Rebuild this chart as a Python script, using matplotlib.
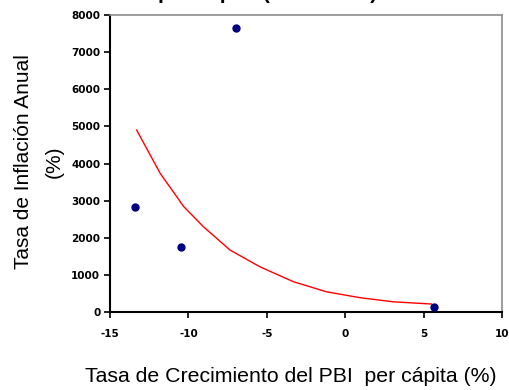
import numpy as np
import matplotlib
matplotlib.use("Agg")
import matplotlib.pyplot as plt

# growth of GDP per capita (%) vs annual inflation (%)
crecimiento = [-13.4, -10.5, -6.95, 5.65]
inflacion = [2820, 1750, 7655, 140]

# trend line as drawn on the chart
tend_x = [-13.3, -11.8, -10.3, -9.05, -7.35, -5.45, -3.3, -1.2, 0.95, 3.05, 5.5]
tend_y = [4900, 3735, 2840, 2300, 1670, 1220, 815, 545, 385, 275, 215]

xticks = [-15, -10, -5, 0, 5, 10]
yticks = [0, 1000, 2000, 3000, 4000, 5000, 6000, 7000, 8000]

plt.rcParams['font.family'] = ['Liberation Sans', 'DejaVu Sans']

fig = plt.figure(figsize=(5.1, 3.9), dpi=100)
ax = fig.add_axes([110/510, 1 - 312/390, 392/510, 297/390])

ax.plot(tend_x, tend_y, color='#ff0000', lw=1.0, zorder=2)
ax.plot(crecimiento, inflacion, 'o', color='#000080', ms=5, zorder=3)

ax.set_xlim(-15, 10)
ax.set_ylim(0, 8000)
ax.set_xticks(xticks)
ax.set_yticks(yticks)
ax.set_xticklabels([str(t) for t in xticks])
ax.set_yticklabels([str(t) for t in yticks])

for lab in ax.get_xticklabels() + ax.get_yticklabels():
    lab.set_fontfamily('DejaVu Sans')
    lab.set_fontweight('bold')
    lab.set_fontsize(7.5)

ax.tick_params(direction='out', length=4, width=1.2, color='black', pad=3)
ax.tick_params(axis='x', pad=8)

for s in ('left', 'bottom'):
    ax.spines[s].set_color('black')
    ax.spines[s].set_linewidth(1.5)
for s in ('top', 'right'):
    ax.spines[s].set_color('#8c8c8c')
    ax.spines[s].set_linewidth(1.2)

# axis titles placed by hand
fig.text(291/510, 1 - 376/390, 'Tasa de Crecimiento del PBI  per cápita (%)',
         ha='center', va='center', fontsize=15.3)
fig.text(39/510, 1 - 162/390, 'Tasa de Inflación Anual\n(%)', rotation=90,
         ha='center', va='center', multialignment='center', fontsize=15,
         linespacing=1.75)

fig.text(268/510, 1 + 1/390, 'per cápita (1985-1990)', ha='center',
         va='baseline', fontsize=15, fontweight='bold')

fig.savefig('out.png', dpi=100, facecolor='white')
